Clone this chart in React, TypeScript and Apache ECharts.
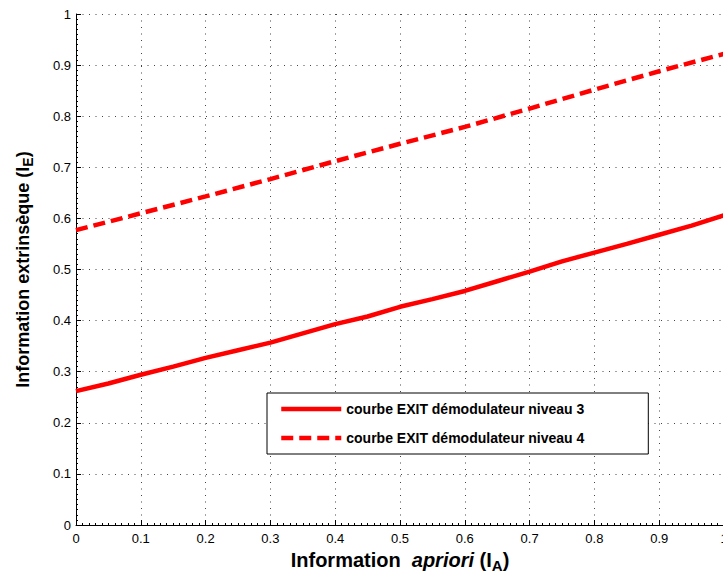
import React, { useEffect, useRef } from "react";
import * as echarts from "echarts";

const xTicks = [0, 0.1, 0.2, 0.3, 0.4, 0.5, 0.6, 0.7, 0.8, 0.9, 1];
const solidX = [0, 0.05, 0.1, 0.15, 0.2, 0.25, 0.3, 0.35, 0.4, 0.45, 0.5, 0.55, 0.6, 0.65, 0.7, 0.75, 0.8, 0.85, 0.9, 0.95, 1];
const solidY = [0.262, 0.277, 0.294, 0.31, 0.327, 0.342, 0.357, 0.375, 0.393, 0.408, 0.427, 0.442, 0.458, 0.477, 0.496, 0.516, 0.533, 0.55, 0.568, 0.586, 0.606];
const dashedX = [0, 0.1, 0.2, 0.3, 0.4, 0.5, 0.6, 0.7, 0.8, 0.9, 1];
const dashedY = [0.577, 0.61, 0.643, 0.677, 0.712, 0.746, 0.779, 0.815, 0.852, 0.888, 0.922];
const seriesNames = ["courbe EXIT démodulateur niveau 3", "courbe EXIT démodulateur niveau 4"];

export default function App() {
  const ref = useRef<HTMLDivElement>(null);
  useEffect(() => {
    if (!ref.current) return;
    const chart = echarts.init(ref.current, undefined, { renderer: "svg" });
    const font = "Liberation Sans, Arial, Helvetica, sans-serif";
    const gridLine = { show: true, lineStyle: { color: "#444", width: 1, type: [1, 5.5] as any } };
    const fmt = (v: number) => String(xTicks.find((t) => Math.abs(t - v) < 1e-9) ?? Math.round(v * 10) / 10);
    const axisCommon = {
      type: "value" as const,
      min: 0,
      max: 1,
      interval: 0.1,
      axisLine: { show: true, lineStyle: { color: "#000", width: 1 } },
      axisTick: { show: true, inside: true, length: 5, lineStyle: { color: "#000" } },
      minorTick: { show: true, splitNumber: 10, length: 2, lineStyle: { color: "#000" } },
      splitLine: gridLine,
      nameLocation: "middle" as const,
      nameMoveOverlap: false,
    };
    chart.setOption({
      animation: false,
      backgroundColor: "#fff",
      textStyle: { fontFamily: font },
      grid: { left: 76, top: 14, width: 648, height: 511, containLabel: false, outerBoundsMode: "none" },
      xAxis: {
        ...axisCommon,
        axisLabel: { color: "#000", fontSize: 13, fontFamily: font, margin: 7, formatter: fmt },
        name: "{b|Information  }{i|apriori}{b| (I}{s|A}{b|)}",
        nameGap: 22,
        nameTextStyle: {
          rich: {
            b: { fontSize: 20, fontWeight: "bold", color: "#000", fontFamily: font },
            i: { fontSize: 20, fontWeight: "bold", fontStyle: "italic", color: "#000", fontFamily: font },
            s: { fontSize: 15, fontWeight: "bold", color: "#000", fontFamily: font, padding: [11, 0, 0, 0] },
          },
        },
      },
      yAxis: {
        ...axisCommon,
        axisLabel: { color: "#000", fontSize: 13, fontFamily: font, margin: 5, formatter: fmt },
        name: "{b|Information extrinsèque (I}{s|E}{b|)}",
        nameGap: 41,
        nameRotate: 90,
        nameTextStyle: {
          rich: {
            b: { fontSize: 18, fontWeight: "bold", color: "#000", fontFamily: font },
            s: { fontSize: 14, fontWeight: "bold", color: "#000", fontFamily: font, padding: [10, 0, 0, 0] },
          },
        },
      },
      legend: {
        orient: "vertical",
        left: 267,
        top: 393,
        backgroundColor: "#fff",
        borderColor: "#000",
        borderWidth: 1,
        borderRadius: 0,
        padding: [9, 64, 9, 12],
        itemWidth: 60,
        itemHeight: 13,
        itemGap: 15,
        itemTextGap: 12,
        itemStyle: { opacity: 0 },
        lineStyle: { width: 4.5 },
        textStyle: { color: "#000", fontSize: 14, fontWeight: "bold", fontFamily: font },
        data: seriesNames,
      },
      series: [
        {
          name: seriesNames[0],
          type: "line",
          data: solidX.map((x, i) => [x, solidY[i]]),
          showSymbol: false,
          symbol: "none",
          lineStyle: { color: "#ff0000", width: 4.5, type: "solid" },
          itemStyle: { color: "#ff0000" },
        },
        {
          name: seriesNames[1],
          type: "line",
          data: dashedX.map((x, i) => [x, dashedY[i]]),
          showSymbol: false,
          symbol: "none",
          lineStyle: { color: "#ff0000", width: 4.5, type: [12, 6] as any },
          itemStyle: { color: "#ff0000" },
        },
      ],
    });
    return () => chart.dispose();
  }, []);
  return <div ref={ref} style={{ position: "absolute", left: 0, top: 0, width: 723, height: 575 }} />;
}
